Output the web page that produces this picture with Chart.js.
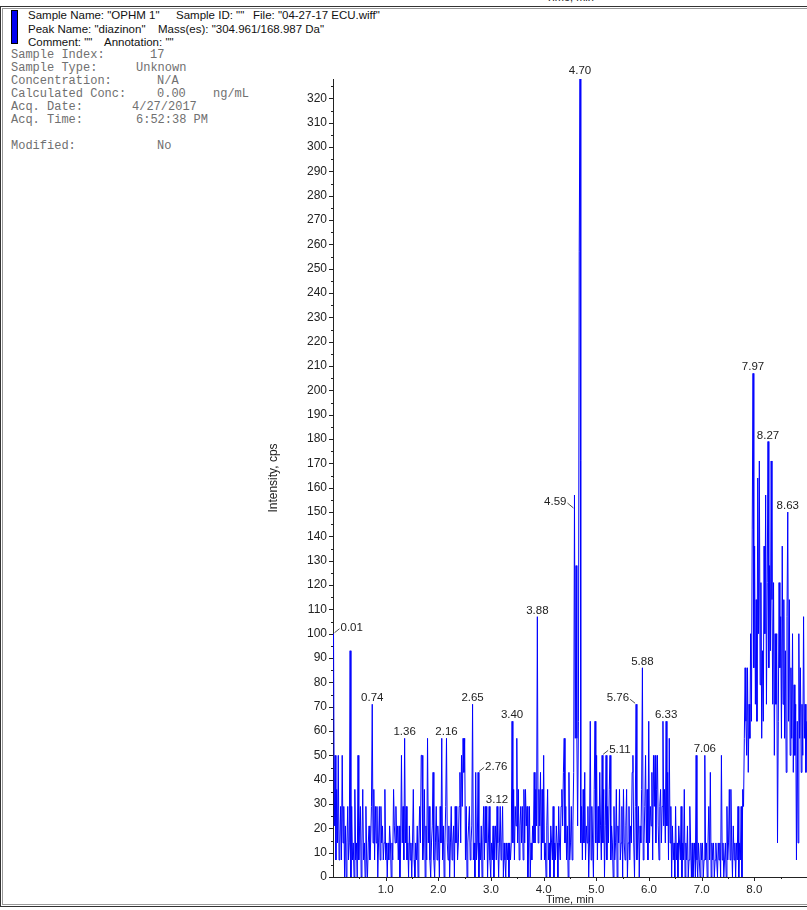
<!DOCTYPE html>
<html>
<head>
<meta charset="utf-8">
<script src="https://cdn.jsdelivr.net/npm/chart.js@4.4.1/dist/chart.umd.min.js"></script>
<style>
  body { margin: 0; width: 807px; height: 910px; overflow: hidden; position: relative; background: #fff; }
  .frame { position: absolute; box-sizing: border-box; }
  .outer { left: 0; top: 6px; width: 830px; height: 901px; border: 1px solid #333; }
  .inner { left: 2px; top: 8px; width: 830px; height: 897px; border: 1px solid #999; }
  .sans { position: absolute; font: 11.5px "Liberation Sans", Arial, sans-serif; color: #111; line-height: 13px; white-space: pre; }
  .mono { position: absolute; font: 12px "Liberation Mono", "Courier New", monospace; color: #707070; line-height: 13px; white-space: pre; }
  .swatch { position: absolute; left: 11px; top: 10px; width: 7px; height: 34px; background: #0000f0; border: 1px solid #000; box-sizing: border-box; }
  #prevTitle { position: absolute; left: 333px; width: 474px; top: -9px; text-align: center; font: 11px "Liberation Sans", Arial, sans-serif; color: #222; }
  canvas { position: absolute; left: 0; top: 0; }
</style>
</head>
<body>
<div id="prevTitle">Time, min</div>
<div class="frame outer"></div>
<div class="frame inner"></div>
<div class="swatch"></div>
<span class="sans" style="left:28px;top:9px">Sample Name: "OPHM 1"</span>
<span class="sans" style="left:176px;top:9px">Sample ID: ""</span>
<span class="sans" style="left:253px;top:9px">File: "04-27-17 ECU.wiff"</span>
<span class="sans" style="left:28px;top:23px">Peak Name: "diazinon"</span>
<span class="sans" style="left:158px;top:23px">Mass(es): "304.961/168.987 Da"</span>
<span class="sans" style="left:28px;top:36px">Comment: ""</span>
<span class="sans" style="left:104px;top:36px">Annotation: ""</span>

<span class="mono" style="left:11px;top:49px">Sample Index:</span><span class="mono" style="left:150px;top:49px">17</span>
<span class="mono" style="left:11px;top:62px">Sample Type:</span><span class="mono" style="left:136px;top:62px">Unknown</span>
<span class="mono" style="left:11px;top:75px">Concentration:</span><span class="mono" style="left:157px;top:75px">N/A</span>
<span class="mono" style="left:11px;top:88px">Calculated Conc:</span><span class="mono" style="left:157px;top:88px">0.00</span><span class="mono" style="left:213px;top:88px">ng/mL</span>
<span class="mono" style="left:11px;top:101px">Acq. Date:</span><span class="mono" style="left:132px;top:101px">4/27/2017</span>
<span class="mono" style="left:11px;top:114px">Acq. Time:</span><span class="mono" style="left:136px;top:114px">6:52:38 PM</span>
<span class="mono" style="left:11px;top:140px">Modified:</span><span class="mono" style="left:157px;top:140px">No</span>

<canvas id="chart" width="807" height="910"></canvas>

<script>
// sampling of the trace (min)
const startMin = 0.01;
const stepMin = 0.015;

// intensity, cps (one row = 20 samples = 0.3 min)
const intensity = [
  100,21,50,7,36,14,50,7,14,29,7,50,14,29,0,21,0,14,29,7,
  14,93,0,29,7,14,0,36,7,14,0,50,7,21,29,0,14,36,7,14,
  0,29,7,0,14,21,7,14,29,71,14,36,7,29,14,29,0,14,29,7,
  29,14,21,7,14,36,7,14,0,14,7,21,14,0,14,7,36,21,14,29,
  14,21,7,21,0,14,50,14,29,7,57,14,29,7,14,0,21,7,14,0,
  14,36,7,0,14,7,21,0,14,29,14,50,50,7,14,36,0,21,7,57,
  14,29,7,0,14,21,43,7,0,14,29,7,21,14,0,29,14,57,7,21,
  0,14,29,57,14,7,21,0,14,29,7,14,21,0,29,14,29,7,14,29,
  43,14,50,29,57,43,57,7,29,0,14,21,29,7,14,21,71,7,14,0,
  43,7,14,43,0,14,7,21,0,14,29,7,29,14,29,0,14,29,7,0,
  14,7,21,0,14,21,7,29,14,0,14,29,7,14,29,0,14,7,0,14,
  7,14,0,14,7,14,64,14,36,7,29,21,57,14,36,7,21,29,14,29,
  7,36,14,36,21,29,0,14,29,0,14,7,21,14,43,14,36,21,107,14,
  36,21,43,7,36,14,50,7,14,0,21,36,7,14,0,21,14,7,29,0,
  14,7,21,14,0,29,14,7,29,36,21,43,57,14,29,7,21,0,43,7,
  14,29,7,21,43,157,57,128,57,21,64,257,329,14,29,7,36,14,43,7,
  21,14,29,0,14,64,7,29,14,0,36,64,14,50,7,29,14,43,21,7,
  50,14,36,0,21,50,7,29,14,36,50,7,21,14,0,29,7,14,36,0,
  21,14,36,7,14,29,0,36,14,7,21,36,0,14,29,7,21,14,43,50,
  14,0,29,71,7,14,29,0,21,14,36,86,7,14,29,50,14,36,7,64,
  14,29,21,43,7,50,29,50,14,36,50,21,7,29,36,14,29,64,21,36,
  14,64,21,43,7,57,14,29,0,21,7,14,0,29,7,14,0,21,14,7,
  29,0,14,7,36,0,14,7,21,0,7,29,14,0,14,0,7,14,0,50,
  7,0,14,7,0,14,7,14,0,7,50,7,14,0,14,29,7,43,0,14,
  7,14,0,7,14,7,0,14,7,14,0,50,7,14,0,7,14,0,29,7,
  14,36,7,36,14,0,21,7,14,0,14,7,29,0,14,7,29,0,36,29,
  57,86,64,50,86,43,71,57,100,64,143,207,86,136,71,114,64,164,100,171,
  79,121,57,93,64,136,100,157,71,121,179,86,128,93,171,114,71,121,50,100,
  71,100,14,64,121,86,107,57,136,71,114,57,93,43,107,150,64,114,50,86,
  57,100,43,79,50,71,7,64,14,100,57,86,43,71,50,107,57,71,43,64
];

// labelled peak apexes (min)
const peakTimes = [0.01, 0.74, 1.36, 2.16, 2.65, 2.76, 3.12, 3.40, 3.88, 4.59, 4.70,
                   5.11, 5.76, 5.88, 6.33, 7.06, 7.97, 8.27, 8.63];

// axis ticks
const xTickLabels = [1, 2, 3, 4, 5, 6, 7, 8];
const yTickLabels = [0,10,20,30,40,50,60,70,80,90,100,110,120,130,140,150,160,170,180,190,
                     200,210,220,230,240,250,260,270,280,290,300,310,320];
const xMin = 0, xMax = 9.0, yMin = 0, yMax = 328;

// where a peak label sits relative to its apex (default: centred above)
const labelPlacement = { '0.01': 'right', '2.76': 'right', '5.11': 'right', '4.59': 'leftLow', '5.76': 'left' };

const points = intensity.map((v, i) => ({ x: startMin + i * stepMin, y: v }));
const FONT = '"Liberation Sans", Arial, Helvetica, sans-serif';
const INK = '#222';

const tickMarks = {
  id: 'tickMarks',
  afterDraw(chart) {
    const { ctx, chartArea: { left, bottom }, scales: { x, y } } = chart;
    ctx.save();
    ctx.strokeStyle = INK;
    ctx.lineWidth = 1;
    ctx.beginPath();
    for (let k = 0; k * 5 <= yMax; k++) {
      const py = Math.round(y.getPixelForValue(k * 5)) + 0.5;
      const len = k % 2 === 0 ? 4 : 2;
      ctx.moveTo(left - len, py); ctx.lineTo(left, py);
    }
    for (let k = 1; k * 0.5 <= xMax; k++) {
      const px = Math.round(x.getPixelForValue(k * 0.5)) + 0.5;
      const len = k % 2 === 0 ? 4 : 2;
      ctx.moveTo(px, bottom); ctx.lineTo(px, bottom + len);
    }
    ctx.stroke();
    ctx.restore();
  }
};

const peakLabels = {
  id: 'peakLabels',
  afterDatasetsDraw(chart) {
    const { ctx, scales: { x, y } } = chart;
    ctx.save();
    ctx.font = '11.5px ' + FONT;
    ctx.fillStyle = INK;
    ctx.strokeStyle = INK;
    ctx.lineWidth = 0.8;
    peakTimes.forEach(t => {
      const c = Math.round((t - startMin) / stepMin);
      let best = Math.max(0, c - 2);
      for (let i = Math.max(0, c - 2); i <= Math.min(intensity.length - 1, c + 2); i++) {
        if (intensity[i] > intensity[best]) best = i;
      }
      const px = x.getPixelForValue(points[best].x);
      const py = y.getPixelForValue(points[best].y);
      const text = t.toFixed(2);
      const mode = labelPlacement[text] || 'above';
      ctx.textBaseline = 'middle';
      if (mode === 'right') {
        ctx.beginPath(); ctx.moveTo(px + 1, py - 1); ctx.lineTo(px + 6, py - 5); ctx.stroke();
        ctx.textAlign = 'left';
        ctx.fillText(text, px + 7, py - 6);
      } else if (mode === 'left') {
        ctx.beginPath(); ctx.moveTo(px - 6, py - 5); ctx.lineTo(px - 1, py - 1); ctx.stroke();
        ctx.textAlign = 'right';
        ctx.fillText(text, px - 7, py - 6);
      } else if (mode === 'leftLow') {
        ctx.beginPath(); ctx.moveTo(px - 7, py + 8); ctx.lineTo(px - 1, py + 13); ctx.stroke();
        ctx.textAlign = 'right';
        ctx.fillText(text, px - 8, py + 7);
      } else {
        ctx.textAlign = 'center';
        ctx.textBaseline = 'alphabetic';
        ctx.fillText(text, px, py - 3);
      }
    });
    ctx.restore();
  }
};

Chart.defaults.font.family = FONT;
Chart.defaults.color = INK;

new Chart(document.getElementById('chart'), {
  type: 'line',
  data: {
    datasets: [{
      data: points,
      borderColor: '#0000ff',
      borderWidth: 1,
      pointRadius: 0,
      tension: 0,
      fill: false
    }]
  },
  options: {
    responsive: false,
    animation: false,
    devicePixelRatio: 1,
    layout: { padding: { left: 266, top: 79, right: 0, bottom: 3 } },
    plugins: { legend: { display: false }, tooltip: { enabled: false } },
    scales: {
      x: {
        type: 'linear',
        min: xMin,
        max: xMax,
        afterBuildTicks: s => { s.ticks = xTickLabels.map(v => ({ value: v })); },
        afterFit: s => { s.height = 30; },
        grid: { display: false, drawTicks: false },
        border: { display: true, color: INK, width: 1 },
        ticks: { padding: 6, maxRotation: 0, autoSkip: false, font: { size: 11.5 }, color: INK,
                 callback: v => Number(v).toFixed(1) },
        title: { display: true, text: 'Time, min', font: { size: 11 }, color: INK, padding: { top: 0, bottom: 0 } }
      },
      y: {
        min: yMin,
        max: yMax,
        afterBuildTicks: s => { s.ticks = yTickLabels.map(v => ({ value: v })); },
        afterFit: s => { s.width = 67; },
        grid: { display: false, drawTicks: false },
        border: { display: true, color: INK, width: 1 },
        ticks: { padding: 6, autoSkip: false, font: { size: 12 }, color: INK },
        title: { display: true, text: 'Intensity, cps', font: { size: 12 }, color: INK, padding: { top: 0, bottom: 0 } }
      }
    }
  },
  plugins: [tickMarks, peakLabels]
});
</script>
</body>
</html>
